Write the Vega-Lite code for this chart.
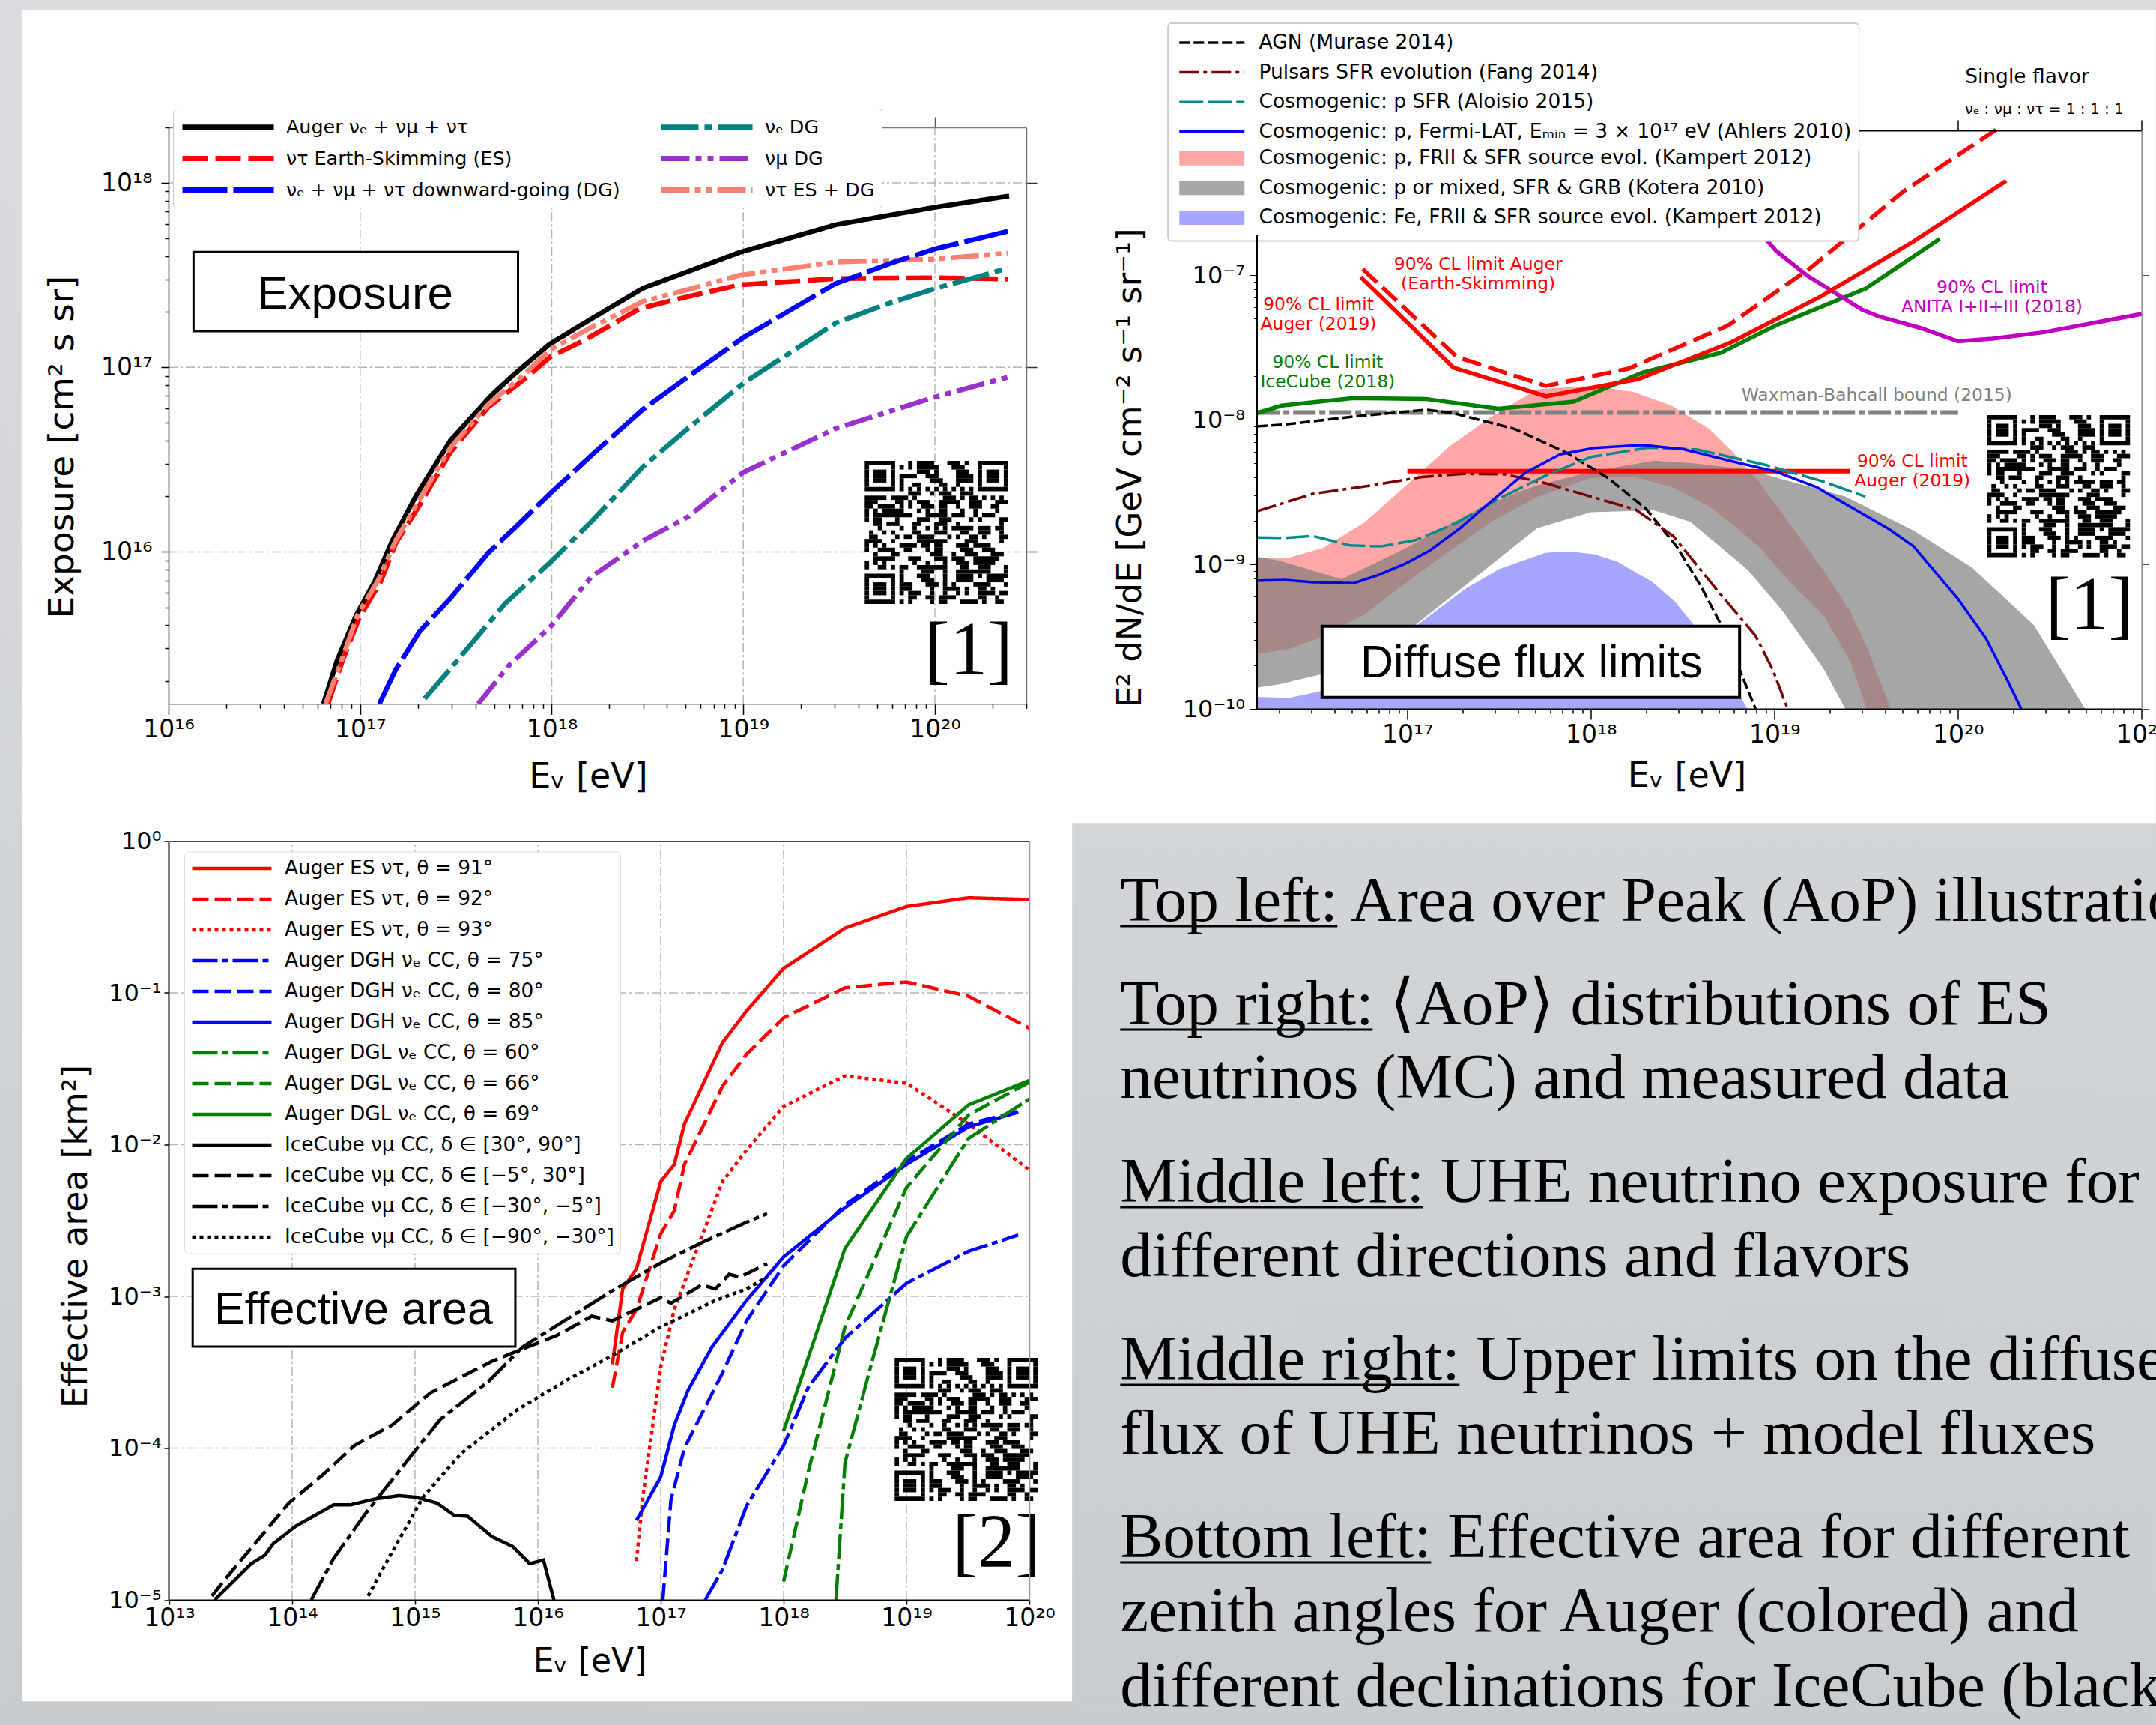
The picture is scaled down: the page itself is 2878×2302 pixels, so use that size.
{"$schema":"https://vega.github.io/schema/vega-lite/v6.json","autosize":"none","padding":{"left":225,"top":170,"right":2653,"bottom":2132},"background":"#d0d3d6","bounds":"flush","spacing":{"column":303.5,"row":176.5},"columns":2,
"resolve":{"scale":{"color":"independent","fill":"independent","strokeDash":"independent","strokeWidth":"independent"}},
"config":{"view":{"stroke":null},"axis":{"grid":false,"labelFont":"DejaVu Sans","labelFontSize":33,"labelColor":"#000000","titleFont":"DejaVu Sans","titleFontWeight":"normal","titleColor":"#000000","tickColor":"#000000","domainColor":"#000000","labelOverlap":false,"labelBound":false,"labelFlush":false,"titleBaseline":"alphabetic"},"text":{"font":"DejaVu Sans"}},
"datasets":{
"a":[
{"s":"Auger  νₑ + νμ + ντ","x":6.43e16,"y":1.5e15},{"s":"Auger  νₑ + νμ + ντ","x":7.58e16,"y":2.58e15},{"s":"Auger  νₑ + νμ + ντ","x":9.55e16,"y":4.55e15},{"s":"Auger  νₑ + νμ + ντ","x":1.19e17,"y":6.9e15},{"s":"Auger  νₑ + νμ + ντ","x":1.47e17,"y":1.15e16},{"s":"Auger  νₑ + νμ + ντ","x":1.96e17,"y":2.02e16},{"s":"Auger  νₑ + νμ + ντ","x":2.96e17,"y":4.02e16},{"s":"Auger  νₑ + νμ + ντ","x":4.87e17,"y":7.1e16},{"s":"Auger  νₑ + νμ + ντ","x":6.24e17,"y":9.0e16},{"s":"Auger  νₑ + νμ + ντ","x":9.68e17,"y":1.33e17},{"s":"Auger  νₑ + νμ + ντ","x":1.55e18,"y":1.79e17},{"s":"Auger  νₑ + νμ + ντ","x":3.0e18,"y":2.69e17},{"s":"Auger  νₑ + νμ + ντ","x":5.14e18,"y":3.31e17},{"s":"Auger  νₑ + νμ + ντ","x":9.55e18,"y":4.2e17},{"s":"Auger  νₑ + νμ + ντ","x":3.04e19,"y":5.94e17},{"s":"Auger  νₑ + νμ + ντ","x":1.0e20,"y":7.38e17},{"s":"Auger  νₑ + νμ + ντ","x":2.44e20,"y":8.5e17},
{"s":"ντ Earth-Skimming (ES)","x":6.8e16,"y":1.5e15},{"s":"ντ Earth-Skimming (ES)","x":8.1e16,"y":2.58e15},{"s":"ντ Earth-Skimming (ES)","x":9.9e16,"y":4.4e15},{"s":"ντ Earth-Skimming (ES)","x":1.28e17,"y":6.9e15},{"s":"ντ Earth-Skimming (ES)","x":1.53e17,"y":1.11e16},{"s":"ντ Earth-Skimming (ES)","x":2.04e17,"y":1.79e16},{"s":"ντ Earth-Skimming (ES)","x":2.96e17,"y":3.47e16},{"s":"ντ Earth-Skimming (ES)","x":4.67e17,"y":6.1e16},{"s":"ντ Earth-Skimming (ES)","x":7.06e17,"y":8.5e16},{"s":"ντ Earth-Skimming (ES)","x":9.84e17,"y":1.14e17},{"s":"ντ Earth-Skimming (ES)","x":1.49e18,"y":1.41e17},{"s":"ντ Earth-Skimming (ES)","x":2.88e18,"y":2.08e17},{"s":"ντ Earth-Skimming (ES)","x":5.14e18,"y":2.42e17},{"s":"ντ Earth-Skimming (ES)","x":9.55e18,"y":2.8e17},{"s":"ντ Earth-Skimming (ES)","x":3.04e19,"y":3.03e17},{"s":"ντ Earth-Skimming (ES)","x":1.0e20,"y":3.06e17},{"s":"ντ Earth-Skimming (ES)","x":2.4e20,"y":3.01e17},
{"s":"ντ ES + DG","x":6.6e16,"y":1.5e15},{"s":"ντ ES + DG","x":8.0e16,"y":2.58e15},{"s":"ντ ES + DG","x":9.7e16,"y":4.55e15},{"s":"ντ ES + DG","x":1.25e17,"y":7.1e15},{"s":"ντ ES + DG","x":1.53e17,"y":1.15e16},{"s":"ντ ES + DG","x":2.04e17,"y":1.92e16},{"s":"ντ ES + DG","x":2.96e17,"y":3.67e16},{"s":"ντ ES + DG","x":4.67e17,"y":6.3e16},{"s":"ντ ES + DG","x":7.06e17,"y":9.0e16},{"s":"ντ ES + DG","x":9.84e17,"y":1.25e17},{"s":"ντ ES + DG","x":1.6e18,"y":1.64e17},{"s":"ντ ES + DG","x":3.0e18,"y":2.28e17},{"s":"ντ ES + DG","x":5.14e18,"y":2.64e17},{"s":"ντ ES + DG","x":9.55e18,"y":3.16e17},{"s":"ντ ES + DG","x":3.04e19,"y":3.73e17},{"s":"ντ ES + DG","x":1.0e20,"y":3.87e17},{"s":"ντ ES + DG","x":2.4e20,"y":4.16e17},
{"s":"νₑ + νμ + ντ downward-going (DG)","x":1.26e17,"y":1.5e15},{"s":"νₑ + νμ + ντ downward-going (DG)","x":1.53e17,"y":2.29e15},{"s":"νₑ + νμ + ντ downward-going (DG)","x":2.04e17,"y":3.69e15},{"s":"νₑ + νμ + ντ downward-going (DG)","x":2.96e17,"y":5.6e15},{"s":"νₑ + νμ + ντ downward-going (DG)","x":4.67e17,"y":9.9e15},{"s":"νₑ + νμ + ντ downward-going (DG)","x":6.5e17,"y":1.37e16},{"s":"νₑ + νμ + ντ downward-going (DG)","x":9.84e17,"y":2.08e16},{"s":"νₑ + νμ + ντ downward-going (DG)","x":1.68e18,"y":3.47e16},{"s":"νₑ + νμ + ντ downward-going (DG)","x":3.0e18,"y":5.93e16},{"s":"νₑ + νμ + ντ downward-going (DG)","x":5.14e18,"y":8.9e16},{"s":"νₑ + νμ + ντ downward-going (DG)","x":1.0e19,"y":1.45e17},{"s":"νₑ + νμ + ντ downward-going (DG)","x":3.04e19,"y":2.85e17},{"s":"νₑ + νμ + ντ downward-going (DG)","x":6.14e19,"y":3.73e17},{"s":"νₑ + νμ + ντ downward-going (DG)","x":1.0e20,"y":4.39e17},{"s":"νₑ + νμ + ντ downward-going (DG)","x":2.4e20,"y":5.47e17},
{"s":"νₑ DG","x":2.17e17,"y":1.6e15},{"s":"νₑ DG","x":2.85e17,"y":2.22e15},{"s":"νₑ DG","x":4.3e17,"y":3.69e15},{"s":"νₑ DG","x":5.74e17,"y":5.27e15},{"s":"νₑ DG","x":9.84e17,"y":8.8e15},{"s":"νₑ DG","x":1.61e18,"y":1.46e16},{"s":"νₑ DG","x":3.0e18,"y":2.9e16},{"s":"νₑ DG","x":5.14e18,"y":4.67e16},{"s":"νₑ DG","x":1.0e19,"y":8.2e16},{"s":"νₑ DG","x":1.5e19,"y":1.08e17},{"s":"νₑ DG","x":3.04e19,"y":1.74e17},{"s":"νₑ DG","x":5.65e19,"y":2.21e17},{"s":"νₑ DG","x":1.0e20,"y":2.67e17},{"s":"νₑ DG","x":2.4e20,"y":3.45e17},
{"s":"νμ DG","x":4.13e17,"y":1.5e15},{"s":"νμ DG","x":6.0e17,"y":2.43e15},{"s":"νμ DG","x":9.84e17,"y":3.92e15},{"s":"νμ DG","x":1.61e18,"y":7.33e15},{"s":"νμ DG","x":3.0e18,"y":1.15e16},{"s":"νμ DG","x":5.14e18,"y":1.55e16},{"s":"νμ DG","x":1.0e19,"y":2.7e16},{"s":"νμ DG","x":3.04e19,"y":4.67e16},{"s":"νμ DG","x":1.0e20,"y":6.9e16},{"s":"νμ DG","x":2.4e20,"y":8.85e16}
],
"bLines":[
{"s":"AGN (Murase 2014)","x":1.52e16,"y":8.97e-9},{"s":"AGN (Murase 2014)","x":2.16e16,"y":9.27e-9},{"s":"AGN (Murase 2014)","x":5.1e16,"y":1.05e-8},{"s":"AGN (Murase 2014)","x":1.26e17,"y":1.17e-8},{"s":"AGN (Murase 2014)","x":1.78e17,"y":1.11e-8},{"s":"AGN (Murase 2014)","x":3.86e17,"y":8.6e-9},{"s":"AGN (Murase 2014)","x":7.38e17,"y":5.9e-9},{"s":"AGN (Murase 2014)","x":1.24e18,"y":3.95e-9},{"s":"AGN (Murase 2014)","x":1.99e18,"y":2.43e-9},{"s":"AGN (Murase 2014)","x":2.93e18,"y":1.33e-9},{"s":"AGN (Murase 2014)","x":3.96e18,"y":7.1e-10},{"s":"AGN (Murase 2014)","x":5.13e18,"y":3.79e-10},{"s":"AGN (Murase 2014)","x":6.64e18,"y":1.71e-10},{"s":"AGN (Murase 2014)","x":7.89e18,"y":1e-10},
{"s":"Pulsars SFR evolution (Fang 2014)","x":1.52e16,"y":2.33e-9},{"s":"Pulsars SFR evolution (Fang 2014)","x":3.05e16,"y":3.07e-9},{"s":"Pulsars SFR evolution (Fang 2014)","x":6.07e16,"y":3.48e-9},{"s":"Pulsars SFR evolution (Fang 2014)","x":1.21e17,"y":4.02e-9},{"s":"Pulsars SFR evolution (Fang 2014)","x":2.03e17,"y":4.22e-9},{"s":"Pulsars SFR evolution (Fang 2014)","x":3.4e17,"y":4.19e-9},{"s":"Pulsars SFR evolution (Fang 2014)","x":5.7e17,"y":3.63e-9},{"s":"Pulsars SFR evolution (Fang 2014)","x":1e18,"y":2.94e-9},{"s":"Pulsars SFR evolution (Fang 2014)","x":1.75e18,"y":2.39e-9},{"s":"Pulsars SFR evolution (Fang 2014)","x":2.81e18,"y":1.57e-9},{"s":"Pulsars SFR evolution (Fang 2014)","x":4.91e18,"y":6.53e-10},{"s":"Pulsars SFR evolution (Fang 2014)","x":7.89e18,"y":3.2e-10},{"s":"Pulsars SFR evolution (Fang 2014)","x":9.8e18,"y":1.86e-10},{"s":"Pulsars SFR evolution (Fang 2014)","x":1.18e19,"y":1e-10},
{"s":"Cosmogenic: p SFR (Aloisio 2015)","x":1.52e16,"y":1.53e-9},{"s":"Cosmogenic: p SFR (Aloisio 2015)","x":2.16e16,"y":1.52e-9},{"s":"Cosmogenic: p SFR (Aloisio 2015)","x":3.05e16,"y":1.57e-9},{"s":"Cosmogenic: p SFR (Aloisio 2015)","x":4.9e16,"y":1.35e-9},{"s":"Cosmogenic: p SFR (Aloisio 2015)","x":7.2e16,"y":1.33e-9},{"s":"Cosmogenic: p SFR (Aloisio 2015)","x":1.11e17,"y":1.47e-9},{"s":"Cosmogenic: p SFR (Aloisio 2015)","x":1.86e17,"y":1.94e-9},{"s":"Cosmogenic: p SFR (Aloisio 2015)","x":3.12e17,"y":2.82e-9},{"s":"Cosmogenic: p SFR (Aloisio 2015)","x":5.7e17,"y":4.12e-9},{"s":"Cosmogenic: p SFR (Aloisio 2015)","x":1e18,"y":5.52e-9},{"s":"Cosmogenic: p SFR (Aloisio 2015)","x":2.07e18,"y":6.41e-9},{"s":"Cosmogenic: p SFR (Aloisio 2015)","x":3.8e18,"y":6.21e-9},{"s":"Cosmogenic: p SFR (Aloisio 2015)","x":8.97e18,"y":4.86e-9},{"s":"Cosmogenic: p SFR (Aloisio 2015)","x":1.79e19,"y":3.78e-9},{"s":"Cosmogenic: p SFR (Aloisio 2015)","x":3.13e19,"y":2.94e-9},
{"s":"Cosmogenic: p, Fermi-LAT, Eₘᵢₙ = 3 × 10¹⁷ eV (Ahlers 2010)","x":1.52e16,"y":7.71e-10},{"s":"Cosmogenic: p, Fermi-LAT, Eₘᵢₙ = 3 × 10¹⁷ eV (Ahlers 2010)","x":2.16e16,"y":7.78e-10},{"s":"Cosmogenic: p, Fermi-LAT, Eₘᵢₙ = 3 × 10¹⁷ eV (Ahlers 2010)","x":3.05e16,"y":7.52e-10},{"s":"Cosmogenic: p, Fermi-LAT, Eₘᵢₙ = 3 × 10¹⁷ eV (Ahlers 2010)","x":5.1e16,"y":7.4e-10},{"s":"Cosmogenic: p, Fermi-LAT, Eₘᵢₙ = 3 × 10¹⁷ eV (Ahlers 2010)","x":6.9e16,"y":8.4e-10},{"s":"Cosmogenic: p, Fermi-LAT, Eₘᵢₙ = 3 × 10¹⁷ eV (Ahlers 2010)","x":9.75e16,"y":1.01e-9},{"s":"Cosmogenic: p, Fermi-LAT, Eₘᵢₙ = 3 × 10¹⁷ eV (Ahlers 2010)","x":1.32e17,"y":1.24e-9},{"s":"Cosmogenic: p, Fermi-LAT, Eₘᵢₙ = 3 × 10¹⁷ eV (Ahlers 2010)","x":1.94e17,"y":1.78e-9},{"s":"Cosmogenic: p, Fermi-LAT, Eₘᵢₙ = 3 × 10¹⁷ eV (Ahlers 2010)","x":2.74e17,"y":2.6e-9},{"s":"Cosmogenic: p, Fermi-LAT, Eₘᵢₙ = 3 × 10¹⁷ eV (Ahlers 2010)","x":4.4e17,"y":4.3e-9},{"s":"Cosmogenic: p, Fermi-LAT, Eₘᵢₙ = 3 × 10¹⁷ eV (Ahlers 2010)","x":6.78e17,"y":5.75e-9},{"s":"Cosmogenic: p, Fermi-LAT, Eₘᵢₙ = 3 × 10¹⁷ eV (Ahlers 2010)","x":1.04e18,"y":6.37e-9},{"s":"Cosmogenic: p, Fermi-LAT, Eₘᵢₙ = 3 × 10¹⁷ eV (Ahlers 2010)","x":1.9e18,"y":6.68e-9},{"s":"Cosmogenic: p, Fermi-LAT, Eₘᵢₙ = 3 × 10¹⁷ eV (Ahlers 2010)","x":3.19e18,"y":6.25e-9},{"s":"Cosmogenic: p, Fermi-LAT, Eₘᵢₙ = 3 × 10¹⁷ eV (Ahlers 2010)","x":5.83e18,"y":5.16e-9},{"s":"Cosmogenic: p, Fermi-LAT, Eₘᵢₙ = 3 × 10¹⁷ eV (Ahlers 2010)","x":1.02e19,"y":4.37e-9},{"s":"Cosmogenic: p, Fermi-LAT, Eₘᵢₙ = 3 × 10¹⁷ eV (Ahlers 2010)","x":1.71e19,"y":3.4e-9},{"s":"Cosmogenic: p, Fermi-LAT, Eₘᵢₙ = 3 × 10¹⁷ eV (Ahlers 2010)","x":2.75e19,"y":2.39e-9},{"s":"Cosmogenic: p, Fermi-LAT, Eₘᵢₙ = 3 × 10¹⁷ eV (Ahlers 2010)","x":4.24e19,"y":1.74e-9},{"s":"Cosmogenic: p, Fermi-LAT, Eₘᵢₙ = 3 × 10¹⁷ eV (Ahlers 2010)","x":5.73e19,"y":1.33e-9},{"s":"Cosmogenic: p, Fermi-LAT, Eₘᵢₙ = 3 × 10¹⁷ eV (Ahlers 2010)","x":1e20,"y":5.75e-10},{"s":"Cosmogenic: p, Fermi-LAT, Eₘᵢₙ = 3 × 10¹⁷ eV (Ahlers 2010)","x":1.42e20,"y":3.07e-10},{"s":"Cosmogenic: p, Fermi-LAT, Eₘᵢₙ = 3 × 10¹⁷ eV (Ahlers 2010)","x":1.83e20,"y":1.64e-10},{"s":"Cosmogenic: p, Fermi-LAT, Eₘᵢₙ = 3 × 10¹⁷ eV (Ahlers 2010)","x":2.21e20,"y":1e-10}
],
"bWB":[{"x":1.52e16,"y":1.12e-8},{"x":1e20,"y":1.12e-8}],
"bRedH":[{"x":1e17,"y":4.4e-9},{"x":2.57e19,"y":4.4e-9}],
"bRedDash":[{"x":5.71e16,"y":1.1e-7},{"x":1.86e17,"y":2.71e-8},{"x":5.7e17,"y":1.71e-8},{"x":1.6e18,"y":2.25e-8},{"x":5.6e18,"y":4.48e-8},{"x":1.57e19,"y":1.12e-7},{"x":5.03e19,"y":3.78e-7},{"x":1.61e20,"y":1.01e-6}],
"bRed":[{"x":5.57e16,"y":9.67e-8},{"x":1.78e17,"y":2.29e-8},{"x":5.7e17,"y":1.45e-8},{"x":1.82e18,"y":1.91e-8},{"x":5.83e18,"y":3.43e-8},{"x":1.79e19,"y":7.1e-8},{"x":5.73e19,"y":1.71e-7},{"x":1.83e20,"y":4.48e-7}],
"bGreen":[{"x":1.52e16,"y":1.11e-8},{"x":2.07e16,"y":1.25e-8},{"x":5.1e16,"y":1.41e-8},{"x":1.26e17,"y":1.39e-8},{"x":3.12e17,"y":1.19e-8},{"x":8.05e17,"y":1.33e-8},{"x":1.9e18,"y":2.11e-8},{"x":5.13e18,"y":2.9e-8},{"x":1.02e19,"y":4.48e-8},{"x":3.13e19,"y":8.04e-8},{"x":7.94e19,"y":1.78e-7}],
"bMag":[{"x":8.97e18,"y":1.78e-7},{"x":1.02e19,"y":1.47e-7},{"x":1.51e19,"y":9.9e-8},{"x":3e19,"y":5.75e-8},{"x":3.72e19,"y":5.16e-8},{"x":6.24e19,"y":4.3e-8},{"x":1e20,"y":3.48e-8},{"x":1.54e20,"y":3.63e-8},{"x":2.94e20,"y":4.02e-8},{"x":1e21,"y":5.38e-8}],
"bPink":[{"x":1.51e16,"y":1.11e-9,"y2":2.39e-10},{"x":2.26e16,"y":1.11e-9,"y2":2.59e-10},{"x":3.48e16,"y":1.3e-9,"y2":3.16e-10},{"x":5.9e16,"y":1.97e-9,"y2":4.52e-10},{"x":1e17,"y":3.57e-9,"y2":7.57e-10},{"x":1.69e17,"y":6.5e-9,"y2":1.23e-9},{"x":2.87e17,"y":1.05e-8,"y2":1.97e-9},{"x":5.11e17,"y":1.62e-8,"y2":2.93e-9},{"x":1e18,"y":1.71e-8,"y2":3.95e-9},{"x":1.69e18,"y":1.56e-8,"y2":4.03e-9},{"x":2.74e18,"y":1.25e-8,"y2":3.44e-9},{"x":4.43e18,"y":8.6e-9,"y2":2.5e-9},{"x":5.9e18,"y":6e-9,"y2":1.89e-9},{"x":8.26e18,"y":3.72e-9,"y2":1.32e-9},{"x":1.16e19,"y":2.05e-9,"y2":8.04e-10},{"x":1.87e19,"y":8.89e-10,"y2":4.35e-10},{"x":2.59e19,"y":4.7e-10,"y2":2.12e-10},{"x":3.18e19,"y":2.7e-10,"y2":1e-10},{"x":4.31e19,"y":1e-10,"y2":1e-10}],
"bGrey":[{"x":1.51e16,"y":1.13e-9,"y2":1.4e-10},{"x":2e16,"y":1.06e-9,"y2":1.48e-10},{"x":4.38e16,"y":7.88e-10,"y2":1.87e-10},{"x":9.53e16,"y":1.27e-9,"y2":3.29e-10},{"x":2.15e17,"y":2.22e-9,"y2":7.43e-10},{"x":4.02e17,"y":3.17e-9,"y2":1.4e-9},{"x":5.11e17,"y":3.51e-9,"y2":1.78e-9},{"x":1e18,"y":4.36e-9,"y2":2.29e-9},{"x":2.21e18,"y":5.21e-9,"y2":2.36e-9},{"x":3.48e18,"y":5.01e-9,"y2":1.97e-9},{"x":7.14e18,"y":4.54e-9,"y2":9.16e-10},{"x":1.1e19,"y":3.87e-9,"y2":4.8e-10},{"x":1.86e19,"y":3.24e-9,"y2":1.88e-10},{"x":2.43e19,"y":2.94e-9,"y2":1e-10},{"x":5.73e19,"y":1.71e-9,"y2":1e-10},{"x":1.19e20,"y":9.5e-10,"y2":1e-10},{"x":2.59e20,"y":3.79e-10,"y2":1e-10},{"x":4.93e20,"y":1e-10,"y2":1e-10}],
"bFe":[{"x":1.51e16,"y":1.21e-10,"y2":1e-10},{"x":2.26e16,"y":1.19e-10,"y2":1e-10},{"x":3.32e16,"y":1.32e-10,"y2":1e-10},{"x":5.9e16,"y":2.04e-10,"y2":1e-10},{"x":1.15e17,"y":3.85e-10,"y2":1e-10},{"x":2.05e17,"y":6.71e-10,"y2":1e-10},{"x":3.16e17,"y":9.25e-10,"y2":1e-10},{"x":5.62e17,"y":1.2e-9,"y2":1e-10},{"x":7.5e17,"y":1.23e-9,"y2":1e-10},{"x":1.05e18,"y":1.17e-9,"y2":1e-10},{"x":1.4e18,"y":1.04e-9,"y2":1e-10},{"x":2.15e18,"y":7.57e-10,"y2":1e-10},{"x":2.87e18,"y":5.51e-10,"y2":1e-10},{"x":3.65e18,"y":3.78e-10,"y2":1e-10},{"x":5.1e18,"y":2.04e-10,"y2":1e-10},{"x":7.14e18,"y":1e-10,"y2":1e-10}],
"bText":[
{"x":2.43e17,"y":1.18e-7,"t":"90% CL limit Auger","c":"#ff0000"},{"x":2.43e17,"y":8.67e-8,"t":"(Earth-Skimming)","c":"#ff0000"},
{"x":3.28e16,"y":6.2e-8,"t":"90% CL limit","c":"#ff0000"},{"x":3.28e16,"y":4.55e-8,"t":"Auger (2019)","c":"#ff0000"},
{"x":3.68e16,"y":2.47e-8,"t":"90% CL limit","c":"#008000"},{"x":3.68e16,"y":1.81e-8,"t":"IceCube (2018)","c":"#008000"},
{"x":1.53e20,"y":8.18e-8,"t":"90% CL limit","c":"#bf00bf"},{"x":1.53e20,"y":6e-8,"t":"ANITA I+II+III (2018)","c":"#bf00bf"},
{"x":3.61e19,"y":1.46e-8,"t":"Waxman-Bahcall bound (2015)","c":"#808080"},
{"x":5.64e19,"y":5.15e-9,"t":"90% CL limit","c":"#ff0000"},{"x":5.64e19,"y":3.78e-9,"t":"Auger (2019)","c":"#ff0000"}
],
"c":[
{"s":"Auger ES ντ, θ = 91°","x":4.04e16,"y":3.57e-4},{"s":"Auger ES ντ, θ = 91°","x":4.9e16,"y":1.12e-3},{"s":"Auger ES ντ, θ = 91°","x":6.34e16,"y":1.52e-3},{"s":"Auger ES ντ, θ = 91°","x":1e17,"y":5.7e-3},{"s":"Auger ES ντ, θ = 91°","x":1.29e17,"y":7.4e-3},{"s":"Auger ES ντ, θ = 91°","x":1.56e17,"y":1.37e-2},{"s":"Auger ES ντ, θ = 91°","x":3.18e17,"y":4.7e-2},{"s":"Auger ES ντ, θ = 91°","x":4.99e17,"y":7.6e-2},{"s":"Auger ES ντ, θ = 91°","x":1e18,"y":0.145},{"s":"Auger ES ντ, θ = 91°","x":3.16e18,"y":0.267},{"s":"Auger ES ντ, θ = 91°","x":1e19,"y":0.37},{"s":"Auger ES ντ, θ = 91°","x":3.2e19,"y":0.423},{"s":"Auger ES ντ, θ = 91°","x":1e20,"y":0.412},
{"s":"Auger ES ντ, θ = 92°","x":4.04e16,"y":2.5e-4},{"s":"Auger ES ντ, θ = 92°","x":4.9e16,"y":5.8e-4},{"s":"Auger ES ντ, θ = 92°","x":6.34e16,"y":8.2e-4},{"s":"Auger ES ντ, θ = 92°","x":1e17,"y":2.58e-3},{"s":"Auger ES ντ, θ = 92°","x":1.29e17,"y":3.67e-3},{"s":"Auger ES ντ, θ = 92°","x":1.56e17,"y":7.4e-3},{"s":"Auger ES ντ, θ = 92°","x":3.18e17,"y":2.43e-2},{"s":"Auger ES ντ, θ = 92°","x":4.99e17,"y":3.94e-2},{"s":"Auger ES ντ, θ = 92°","x":1e18,"y":6.85e-2},{"s":"Auger ES ντ, θ = 92°","x":3.16e18,"y":0.108},{"s":"Auger ES ντ, θ = 92°","x":1e19,"y":0.118},{"s":"Auger ES ντ, θ = 92°","x":3.2e19,"y":9.5e-2},{"s":"Auger ES ντ, θ = 92°","x":1e20,"y":5.85e-2},
{"s":"Auger ES ντ, θ = 93°","x":6.34e16,"y":1.8e-5},{"s":"Auger ES ντ, θ = 93°","x":7.2e16,"y":4.95e-5},{"s":"Auger ES ντ, θ = 93°","x":1e17,"y":3.42e-4},{"s":"Auger ES ντ, θ = 93°","x":1.29e17,"y":8.2e-4},{"s":"Auger ES ντ, θ = 93°","x":3.18e17,"y":5.7e-3},{"s":"Auger ES ντ, θ = 93°","x":4.99e17,"y":9.2e-3},{"s":"Auger ES ντ, θ = 93°","x":1e18,"y":1.79e-2},{"s":"Auger ES ντ, θ = 93°","x":3.16e18,"y":2.84e-2},{"s":"Auger ES ντ, θ = 93°","x":1e19,"y":2.54e-2},{"s":"Auger ES ντ, θ = 93°","x":3.2e19,"y":1.37e-2},{"s":"Auger ES ντ, θ = 93°","x":1e20,"y":6.8e-3},
{"s":"Auger DGH νₑ CC, θ = 75°","x":2.3e17,"y":1e-5},{"s":"Auger DGH νₑ CC, θ = 75°","x":3.18e17,"y":1.58e-5},{"s":"Auger DGH νₑ CC, θ = 75°","x":4.99e17,"y":4.15e-5},{"s":"Auger DGH νₑ CC, θ = 75°","x":1e18,"y":1.04e-4},{"s":"Auger DGH νₑ CC, θ = 75°","x":1.59e18,"y":2.52e-4},{"s":"Auger DGH νₑ CC, θ = 75°","x":3.16e18,"y":5.3e-4},{"s":"Auger DGH νₑ CC, θ = 75°","x":1e19,"y":1.22e-3},{"s":"Auger DGH νₑ CC, θ = 75°","x":3.2e19,"y":1.98e-3},{"s":"Auger DGH νₑ CC, θ = 75°","x":8.13e19,"y":2.54e-3},
{"s":"Auger DGH νₑ CC, θ = 80°","x":1.04e17,"y":1e-5},{"s":"Auger DGH νₑ CC, θ = 80°","x":1.21e17,"y":4.53e-5},{"s":"Auger DGH νₑ CC, θ = 80°","x":1.56e17,"y":1e-4},{"s":"Auger DGH νₑ CC, θ = 80°","x":3.18e17,"y":3.13e-4},{"s":"Auger DGH νₑ CC, θ = 80°","x":4.99e17,"y":6.9e-4},{"s":"Auger DGH νₑ CC, θ = 80°","x":1e18,"y":1.59e-3},{"s":"Auger DGH νₑ CC, θ = 80°","x":3.16e18,"y":4.0e-3},{"s":"Auger DGH νₑ CC, θ = 80°","x":1e19,"y":7.75e-3},{"s":"Auger DGH νₑ CC, θ = 80°","x":3.2e19,"y":1.37e-2},{"s":"Auger DGH νₑ CC, θ = 80°","x":8.13e19,"y":1.66e-2},
{"s":"Auger DGH νₑ CC, θ = 85°","x":6.34e16,"y":3.33e-5},{"s":"Auger DGH νₑ CC, θ = 85°","x":1e17,"y":6.44e-5},{"s":"Auger DGH νₑ CC, θ = 85°","x":1.29e17,"y":1.42e-4},{"s":"Auger DGH νₑ CC, θ = 85°","x":1.67e17,"y":2.41e-4},{"s":"Auger DGH νₑ CC, θ = 85°","x":2.62e17,"y":4.66e-4},{"s":"Auger DGH νₑ CC, θ = 85°","x":4.99e17,"y":9.4e-4},{"s":"Auger DGH νₑ CC, θ = 85°","x":1e18,"y":1.82e-3},{"s":"Auger DGH νₑ CC, θ = 85°","x":3.16e18,"y":3.84e-3},{"s":"Auger DGH νₑ CC, θ = 85°","x":1e19,"y":7.4e-3},{"s":"Auger DGH νₑ CC, θ = 85°","x":3.2e19,"y":1.31e-2},{"s":"Auger DGH νₑ CC, θ = 85°","x":8.13e19,"y":1.64e-2},
{"s":"Auger DGL νₑ CC, θ = 60°","x":2.67e18,"y":1e-5},{"s":"Auger DGL νₑ CC, θ = 60°","x":3.16e18,"y":8e-5},{"s":"Auger DGL νₑ CC, θ = 60°","x":5.1e18,"y":3.42e-4},{"s":"Auger DGL νₑ CC, θ = 60°","x":1e19,"y":2.47e-3},{"s":"Auger DGL νₑ CC, θ = 60°","x":3.2e19,"y":1.1e-2},{"s":"Auger DGL νₑ CC, θ = 60°","x":1e20,"y":2e-2},
{"s":"Auger DGL νₑ CC, θ = 66°","x":1e18,"y":1.32e-5},{"s":"Auger DGL νₑ CC, θ = 66°","x":1.59e18,"y":7e-5},{"s":"Auger DGL νₑ CC, θ = 66°","x":3.16e18,"y":6.3e-4},{"s":"Auger DGL νₑ CC, θ = 66°","x":1e19,"y":5.2e-3},{"s":"Auger DGL νₑ CC, θ = 66°","x":3.2e19,"y":1.57e-2},{"s":"Auger DGL νₑ CC, θ = 66°","x":1e20,"y":2.58e-2},
{"s":"Auger DGL νₑ CC, θ = 69°","x":1e18,"y":1.3e-4},{"s":"Auger DGL νₑ CC, θ = 69°","x":3.16e18,"y":2.07e-3},{"s":"Auger DGL νₑ CC, θ = 69°","x":1e19,"y":8.1e-3},{"s":"Auger DGL νₑ CC, θ = 69°","x":3.2e19,"y":1.83e-2},{"s":"Auger DGL νₑ CC, θ = 69°","x":1e20,"y":2.65e-2},
{"s":"IceCube νμ CC, δ ∈ [30°, 90°]","x":2.34e13,"y":1e-5},{"s":"IceCube νμ CC, δ ∈ [30°, 90°]","x":4.64e13,"y":1.73e-5},{"s":"IceCube νμ CC, δ ∈ [30°, 90°]","x":6e13,"y":1.97e-5},{"s":"IceCube νμ CC, δ ∈ [30°, 90°]","x":7e13,"y":2.34e-5},{"s":"IceCube νμ CC, δ ∈ [30°, 90°]","x":1.07e14,"y":3.06e-5},{"s":"IceCube νμ CC, δ ∈ [30°, 90°]","x":2.18e14,"y":4.23e-5},{"s":"IceCube νμ CC, δ ∈ [30°, 90°]","x":3e14,"y":4.23e-5},{"s":"IceCube νμ CC, δ ∈ [30°, 90°]","x":4.72e14,"y":4.62e-5},{"s":"IceCube νμ CC, δ ∈ [30°, 90°]","x":7.4e14,"y":4.86e-5},{"s":"IceCube νμ CC, δ ∈ [30°, 90°]","x":1.02e15,"y":4.74e-5},{"s":"IceCube νμ CC, δ ∈ [30°, 90°]","x":1.51e15,"y":4.34e-5},{"s":"IceCube νμ CC, δ ∈ [30°, 90°]","x":2.08e15,"y":3.61e-5},{"s":"IceCube νμ CC, δ ∈ [30°, 90°]","x":2.69e15,"y":3.55e-5},{"s":"IceCube νμ CC, δ ∈ [30°, 90°]","x":4.23e15,"y":2.61e-5},{"s":"IceCube νμ CC, δ ∈ [30°, 90°]","x":6.22e15,"y":2.25e-5},{"s":"IceCube νμ CC, δ ∈ [30°, 90°]","x":8.6e15,"y":1.73e-5},{"s":"IceCube νμ CC, δ ∈ [30°, 90°]","x":1.11e16,"y":1.83e-5},{"s":"IceCube νμ CC, δ ∈ [30°, 90°]","x":1.35e16,"y":1e-5},
{"s":"IceCube νμ CC, δ ∈ [−5°, 30°]","x":2.22e13,"y":1.06e-5},{"s":"IceCube νμ CC, δ ∈ [−5°, 30°]","x":3.15e13,"y":1.51e-5},{"s":"IceCube νμ CC, δ ∈ [−5°, 30°]","x":9.4e13,"y":4.34e-5},{"s":"IceCube νμ CC, δ ∈ [−5°, 30°]","x":1.8e14,"y":6.73e-5},{"s":"IceCube νμ CC, δ ∈ [−5°, 30°]","x":3.21e14,"y":1.04e-4},{"s":"IceCube νμ CC, δ ∈ [−5°, 30°]","x":6.5e14,"y":1.42e-4},{"s":"IceCube νμ CC, δ ∈ [−5°, 30°]","x":1.33e15,"y":2.31e-4},{"s":"IceCube νμ CC, δ ∈ [−5°, 30°]","x":4.23e15,"y":3.74e-4},{"s":"IceCube νμ CC, δ ∈ [−5°, 30°]","x":1.44e16,"y":5.55e-4},{"s":"IceCube νμ CC, δ ∈ [−5°, 30°]","x":2.74e16,"y":7.4e-4},{"s":"IceCube νμ CC, δ ∈ [−5°, 30°]","x":4.04e16,"y":6.9e-4},{"s":"IceCube νμ CC, δ ∈ [−5°, 30°]","x":1e17,"y":9.8e-4},{"s":"IceCube νμ CC, δ ∈ [−5°, 30°]","x":1.21e17,"y":9e-4},{"s":"IceCube νμ CC, δ ∈ [−5°, 30°]","x":2.16e17,"y":1.19e-3},{"s":"IceCube νμ CC, δ ∈ [−5°, 30°]","x":2.79e17,"y":1.12e-3},{"s":"IceCube νμ CC, δ ∈ [−5°, 30°]","x":3.61e17,"y":1.4e-3},{"s":"IceCube νμ CC, δ ∈ [−5°, 30°]","x":4.39e17,"y":1.34e-3},{"s":"IceCube νμ CC, δ ∈ [−5°, 30°]","x":7.35e17,"y":1.64e-3},
{"s":"IceCube νμ CC, δ ∈ [−30°, −5°]","x":1.43e14,"y":1e-5},{"s":"IceCube νμ CC, δ ∈ [−30°, −5°]","x":2.18e14,"y":1.88e-5},{"s":"IceCube νμ CC, δ ∈ [−30°, −5°]","x":3.89e14,"y":3.64e-5},{"s":"IceCube νμ CC, δ ∈ [−30°, −5°]","x":9.6e14,"y":9.2e-5},{"s":"IceCube νμ CC, δ ∈ [−30°, −5°]","x":1.61e15,"y":1.55e-4},{"s":"IceCube νμ CC, δ ∈ [−30°, −5°]","x":3.96e15,"y":2.75e-4},{"s":"IceCube νμ CC, δ ∈ [−30°, −5°]","x":7.55e15,"y":4.66e-4},{"s":"IceCube νμ CC, δ ∈ [−30°, −5°]","x":1.64e16,"y":6.9e-4},{"s":"IceCube νμ CC, δ ∈ [−30°, −5°]","x":4.04e16,"y":1.09e-3},{"s":"IceCube νμ CC, δ ∈ [−30°, −5°]","x":1e17,"y":1.66e-3},{"s":"IceCube νμ CC, δ ∈ [−30°, −5°]","x":2.16e17,"y":2.26e-3},{"s":"IceCube νμ CC, δ ∈ [−30°, −5°]","x":4.99e17,"y":3.08e-3},{"s":"IceCube νμ CC, δ ∈ [−30°, −5°]","x":7.35e17,"y":3.51e-3},
{"s":"IceCube νμ CC, δ ∈ [−90°, −30°]","x":4.15e14,"y":1.06e-5},{"s":"IceCube νμ CC, δ ∈ [−90°, −30°]","x":6.1e14,"y":1.88e-5},{"s":"IceCube νμ CC, δ ∈ [−90°, −30°]","x":1.16e15,"y":4.74e-5},{"s":"IceCube νμ CC, δ ∈ [−90°, −30°]","x":2.37e15,"y":9.2e-5},{"s":"IceCube νμ CC, δ ∈ [−90°, −30°]","x":6.64e15,"y":1.77e-4},{"s":"IceCube νμ CC, δ ∈ [−90°, −30°]","x":1.64e16,"y":2.75e-4},{"s":"IceCube νμ CC, δ ∈ [−90°, −30°]","x":4.04e16,"y":4.08e-4},{"s":"IceCube νμ CC, δ ∈ [−90°, −30°]","x":1e17,"y":6.3e-4},{"s":"IceCube νμ CC, δ ∈ [−90°, −30°]","x":2.79e17,"y":9.4e-4},{"s":"IceCube νμ CC, δ ∈ [−90°, −30°]","x":4.99e17,"y":1.12e-3},{"s":"IceCube νμ CC, δ ∈ [−90°, −30°]","x":7.35e17,"y":1.34e-3}
],
"qr":[
{"r":0,"a":0,"b":7},{"r":0,"a":10,"b":11},{"r":0,"a":12,"b":16},{"r":0,"a":19,"b":22},{"r":0,"a":23,"b":24},{"r":0,"a":26,"b":33},
{"r":1,"a":0,"b":1},{"r":1,"a":6,"b":7},{"r":1,"a":8,"b":9},{"r":1,"a":10,"b":11},{"r":1,"a":12,"b":17},{"r":1,"a":20,"b":23},{"r":1,"a":26,"b":27},{"r":1,"a":32,"b":33},
{"r":2,"a":0,"b":1},{"r":2,"a":2,"b":5},{"r":2,"a":6,"b":7},{"r":2,"a":12,"b":15},{"r":2,"a":16,"b":17},{"r":2,"a":21,"b":24},{"r":2,"a":26,"b":27},{"r":2,"a":28,"b":31},{"r":2,"a":32,"b":33},
{"r":3,"a":0,"b":1},{"r":3,"a":2,"b":5},{"r":3,"a":6,"b":7},{"r":3,"a":8,"b":12},{"r":3,"a":14,"b":17},{"r":3,"a":21,"b":25},{"r":3,"a":26,"b":27},{"r":3,"a":28,"b":31},{"r":3,"a":32,"b":33},
{"r":4,"a":0,"b":1},{"r":4,"a":2,"b":5},{"r":4,"a":6,"b":7},{"r":4,"a":8,"b":9},{"r":4,"a":15,"b":18},{"r":4,"a":21,"b":25},{"r":4,"a":26,"b":27},{"r":4,"a":28,"b":31},{"r":4,"a":32,"b":33},
{"r":5,"a":0,"b":1},{"r":5,"a":6,"b":7},{"r":5,"a":8,"b":9},{"r":5,"a":11,"b":13},{"r":5,"a":17,"b":19},{"r":5,"a":21,"b":22},{"r":5,"a":26,"b":27},{"r":5,"a":32,"b":33},
{"r":6,"a":0,"b":7},{"r":6,"a":8,"b":9},{"r":6,"a":10,"b":11},{"r":6,"a":12,"b":13},{"r":6,"a":14,"b":15},{"r":6,"a":16,"b":17},{"r":6,"a":18,"b":19},{"r":6,"a":20,"b":21},{"r":6,"a":22,"b":23},{"r":6,"a":24,"b":25},{"r":6,"a":26,"b":33},
{"r":7,"a":10,"b":13},{"r":7,"a":15,"b":16},{"r":7,"a":17,"b":20},{"r":7,"a":22,"b":25},
{"r":8,"a":0,"b":5},{"r":8,"a":6,"b":10},{"r":8,"a":11,"b":12},{"r":8,"a":18,"b":21},{"r":8,"a":22,"b":23},{"r":8,"a":24,"b":26},{"r":8,"a":27,"b":28},{"r":8,"a":29,"b":30},{"r":8,"a":31,"b":32},
{"r":9,"a":0,"b":3},{"r":9,"a":7,"b":9},{"r":9,"a":10,"b":11},{"r":9,"a":12,"b":15},{"r":9,"a":17,"b":22},{"r":9,"a":24,"b":27},{"r":9,"a":30,"b":33},
{"r":10,"a":0,"b":2},{"r":10,"a":3,"b":7},{"r":10,"a":8,"b":9},{"r":10,"a":10,"b":11},{"r":10,"a":13,"b":16},{"r":10,"a":17,"b":19},{"r":10,"a":21,"b":22},{"r":10,"a":24,"b":27},{"r":10,"a":29,"b":31},
{"r":11,"a":0,"b":1},{"r":11,"a":2,"b":3},{"r":11,"a":4,"b":9},{"r":11,"a":12,"b":13},{"r":11,"a":14,"b":15},{"r":11,"a":17,"b":19},{"r":11,"a":22,"b":23},{"r":11,"a":25,"b":26},{"r":11,"a":30,"b":31},
{"r":12,"a":0,"b":1},{"r":12,"a":2,"b":11},{"r":12,"a":14,"b":19},{"r":12,"a":20,"b":23},{"r":12,"a":25,"b":26},{"r":12,"a":27,"b":30},
{"r":13,"a":0,"b":1},{"r":13,"a":2,"b":4},{"r":13,"a":7,"b":8},{"r":13,"a":12,"b":15},{"r":13,"a":17,"b":20},{"r":13,"a":24,"b":25},{"r":13,"a":26,"b":27},{"r":13,"a":31,"b":33},
{"r":14,"a":2,"b":4},{"r":14,"a":5,"b":8},{"r":14,"a":11,"b":13},{"r":14,"a":16,"b":19},{"r":14,"a":21,"b":22},{"r":14,"a":31,"b":32},
{"r":15,"a":3,"b":4},{"r":15,"a":8,"b":9},{"r":15,"a":11,"b":12},{"r":15,"a":14,"b":15},{"r":15,"a":16,"b":17},{"r":15,"a":18,"b":19},{"r":15,"a":20,"b":25},{"r":15,"a":26,"b":29},{"r":15,"a":30,"b":32},
{"r":16,"a":1,"b":2},{"r":16,"a":4,"b":5},{"r":16,"a":6,"b":7},{"r":16,"a":11,"b":13},{"r":16,"a":16,"b":19},{"r":16,"a":22,"b":24},{"r":16,"a":26,"b":29},{"r":16,"a":31,"b":32},
{"r":17,"a":1,"b":3},{"r":17,"a":7,"b":8},{"r":17,"a":9,"b":11},{"r":17,"a":12,"b":16},{"r":17,"a":19,"b":20},{"r":17,"a":21,"b":22},{"r":17,"a":24,"b":26},{"r":17,"a":27,"b":28},{"r":17,"a":31,"b":33},
{"r":18,"a":0,"b":4},{"r":18,"a":6,"b":7},{"r":18,"a":12,"b":19},{"r":18,"a":23,"b":26},{"r":18,"a":31,"b":32},
{"r":19,"a":0,"b":1},{"r":19,"a":2,"b":3},{"r":19,"a":4,"b":5},{"r":19,"a":8,"b":12},{"r":19,"a":13,"b":15},{"r":19,"a":16,"b":18},{"r":19,"a":21,"b":24},{"r":19,"a":25,"b":29},
{"r":20,"a":0,"b":1},{"r":20,"a":3,"b":7},{"r":20,"a":9,"b":11},{"r":20,"a":14,"b":15},{"r":20,"a":16,"b":18},{"r":20,"a":22,"b":25},{"r":20,"a":27,"b":30},
{"r":21,"a":2,"b":3},{"r":21,"a":6,"b":8},{"r":21,"a":15,"b":18},{"r":21,"a":20,"b":21},{"r":21,"a":23,"b":26},{"r":21,"a":29,"b":32},
{"r":22,"a":2,"b":7},{"r":22,"a":10,"b":13},{"r":22,"a":16,"b":19},{"r":22,"a":20,"b":23},{"r":22,"a":25,"b":31},
{"r":23,"a":0,"b":1},{"r":23,"a":2,"b":3},{"r":23,"a":4,"b":5},{"r":23,"a":11,"b":12},{"r":23,"a":14,"b":15},{"r":23,"a":18,"b":19},{"r":23,"a":21,"b":24},{"r":23,"a":25,"b":30},
{"r":24,"a":0,"b":1},{"r":24,"a":3,"b":5},{"r":24,"a":6,"b":7},{"r":24,"a":8,"b":10},{"r":24,"a":12,"b":19},{"r":24,"a":22,"b":24},{"r":24,"a":26,"b":29},{"r":24,"a":32,"b":33},
{"r":25,"a":8,"b":9},{"r":25,"a":13,"b":16},{"r":25,"a":18,"b":19},{"r":25,"a":21,"b":29},{"r":25,"a":32,"b":33},
{"r":26,"a":0,"b":7},{"r":26,"a":8,"b":9},{"r":26,"a":12,"b":15},{"r":26,"a":18,"b":19},{"r":26,"a":21,"b":25},{"r":26,"a":26,"b":27},{"r":26,"a":28,"b":33},
{"r":27,"a":0,"b":1},{"r":27,"a":6,"b":7},{"r":27,"a":8,"b":9},{"r":27,"a":13,"b":16},{"r":27,"a":18,"b":19},{"r":27,"a":21,"b":25},{"r":27,"a":28,"b":32},
{"r":28,"a":0,"b":1},{"r":28,"a":2,"b":5},{"r":28,"a":6,"b":7},{"r":28,"a":8,"b":11},{"r":28,"a":14,"b":17},{"r":28,"a":18,"b":19},{"r":28,"a":20,"b":21},{"r":28,"a":25,"b":29},{"r":28,"a":32,"b":33},
{"r":29,"a":0,"b":1},{"r":29,"a":2,"b":5},{"r":29,"a":6,"b":7},{"r":29,"a":8,"b":11},{"r":29,"a":15,"b":16},{"r":29,"a":18,"b":22},{"r":29,"a":23,"b":24},{"r":29,"a":26,"b":28},{"r":29,"a":29,"b":30},
{"r":30,"a":0,"b":1},{"r":30,"a":2,"b":5},{"r":30,"a":6,"b":7},{"r":30,"a":8,"b":9},{"r":30,"a":10,"b":13},{"r":30,"a":15,"b":16},{"r":30,"a":18,"b":19},{"r":30,"a":21,"b":22},{"r":30,"a":23,"b":24},{"r":30,"a":26,"b":30},{"r":30,"a":31,"b":33},
{"r":31,"a":0,"b":1},{"r":31,"a":6,"b":7},{"r":31,"a":10,"b":12},{"r":31,"a":14,"b":16},{"r":31,"a":17,"b":21},{"r":31,"a":26,"b":28},{"r":31,"a":30,"b":31},
{"r":32,"a":0,"b":7},{"r":32,"a":8,"b":9},{"r":32,"a":10,"b":11},{"r":32,"a":15,"b":16},{"r":32,"a":17,"b":19},{"r":32,"a":22,"b":26},{"r":32,"a":27,"b":28},{"r":32,"a":30,"b":32}
]
},
"concat":[
{"width":1145,"height":769.3,
"resolve":{"scale":{"x":"independent","y":"independent"}},
"layer":[
{"encoding":{"x":{"field":"x","type":"quantitative","axis":null,"scale":{"type":"log","domain":[1e16,3e20],"nice":false}},"y":{"field":"y","type":"quantitative","axis":null,"scale":{"type":"log","domain":[1.5e15,2e18],"nice":false}}},
"resolve":{"axis":{"x":"independent","y":"independent"}},
"layer":[
{"data":{"values":[{"x":1.32e15,"x2":2.36e26,"y":9.9e18,"y2":4.3e9}]},"mark":{"type":"rect","color":{"gradient":"linear","x1":0,"y1":0,"x2":0,"y2":1,"stops":[{"offset":0,"color":"#dcdde0"},{"offset":1,"color":"#c8ccd0"}]}},
"encoding":{"x":{"field":"x","type":"quantitative","scale":{"type":"log","domain":[1e16,3e20],"nice":false},"axis":{"zindex":1,"orient":"bottom","values":[1e16,2e16,3e16,4e16,5e16,6e16,7e16,8e16,9e16,1e17,2e17,3e17,4e17,5e17,6e17,7e17,8e17,9e17,1e18,2e18,3e18,4e18,5e18,6e18,7e18,8e18,9e18,1e19,2e19,3e19,4e19,5e19,6e19,7e19,8e19,9e19,1e20,2e20,3e20],"labelExpr":"abs(log(datum.value)/LN10-round(log(datum.value)/LN10))<0.001?'10'+{'16':'¹⁶','17':'¹⁷','18':'¹⁸','19':'¹⁹','20':'²⁰'}[''+round(log(datum.value)/LN10)]:''","tickSize":{"condition":{"test":"abs(log(datum.value)/LN10-round(log(datum.value)/LN10))<0.001","value":14},"value":6},"tickWidth":1.5,"domainWidth":1.5,"domainColor":"#666666","labelPadding":4,"title":"Eᵥ [eV]","titleFontSize":46,"titleX":560,"titleY":111}},
"x2":{"field":"x2"},
"y":{"field":"y","type":"quantitative","scale":{"type":"log","domain":[1.5e15,2e18],"nice":false},"axis":{"zindex":1,"orient":"left","values":[2e15,3e15,4e15,5e15,6e15,7e15,8e15,9e15,1e16,2e16,3e16,4e16,5e16,6e16,7e16,8e16,9e16,1e17,2e17,3e17,4e17,5e17,6e17,7e17,8e17,9e17,1e18,2e18],"labelExpr":"abs(log(datum.value)/LN10-round(log(datum.value)/LN10))<0.001?'10'+{'16':'¹⁶','17':'¹⁷','18':'¹⁸'}[''+round(log(datum.value)/LN10)]:''","tickSize":{"condition":{"test":"abs(log(datum.value)/LN10-round(log(datum.value)/LN10))<0.001","value":10},"value":5},"tickWidth":1.5,"domainWidth":1.5,"labelPadding":12,"title":"Exposure [cm² s sr]","titleFontSize":47,"titleX":-128,"titleY":426}},
"y2":{"field":"y2"}}},
{"data":{"values":[{"x":1.71e15,"x2":2.36e26,"y":8.68e18,"y2":3.39e14}]},"mark":{"type":"rect","color":"#ffffff"},
"encoding":{"x":{"field":"x","type":"quantitative","scale":{"type":"log","domain":[1e16,3e20],"nice":false},"axis":{"zindex":1,"orient":"top","values":[1e17,1e18,1e19,1e20],"labels":false,"title":null,"tickSize":14,"tickColor":"#555555","domainColor":"#777777","domainWidth":1.5,"tickWidth":1.5}},
"x2":{"field":"x2"},
"y":{"field":"y","type":"quantitative","scale":{"type":"log","domain":[1.5e15,2e18],"nice":false},"axis":{"zindex":1,"orient":"right","values":[1e16,1e17,1e18],"labels":false,"title":null,"tickSize":14,"tickColor":"#333333","domainColor":"#777777","domainWidth":1.5,"tickWidth":1.5}},
"y2":{"field":"y2"}}},
{"data":{"values":[{"x":1e17,"y":1.5e15,"y2":2e18},{"x":1e18,"y":1.5e15,"y2":2e18},{"x":1e19,"y":1.5e15,"y2":2e18},{"x":1e20,"y":1.5e15,"y2":2e18}]},"mark":{"type":"rule","color":"#b5b5b5","strokeWidth":1.5,"strokeDash":[12,4,3,4]},"encoding":{"y2":{"field":"y2"}}},
{"data":{"values":[{"x":1e16,"x2":3e20,"y":1e16},{"x":1e16,"x2":3e20,"y":1e17},{"x":1e16,"x2":3e20,"y":1e18}]},"mark":{"type":"rule","color":"#b5b5b5","strokeWidth":1.5,"strokeDash":[12,4,3,4]},"encoding":{"x2":{"field":"x2"}}},
{"data":{"name":"a"},"mark":{"type":"line","strokeWidth":6.5,"clip":true},
"encoding":{"color":{"field":"s","type":"nominal","scale":{"domain":["Auger  νₑ + νμ + ντ","ντ Earth-Skimming (ES)","νₑ + νμ + ντ downward-going (DG)","νₑ DG","νμ DG","ντ ES + DG"],"range":["#000000","#ff0000","#0000ff","#008080","#9932cc","#fa8072"]},"legend":{"title":null,"orient":"none","legendX":6,"legendY":-25,"zindex":1,"columns":2,"columnPadding":40,"fillColor":"#ffffff","strokeColor":"#cccccc","cornerRadius":5,"padding":9,"labelFont":"DejaVu Sans","labelFontSize":25.4,"labelColor":"#000000","labelLimit":800,"labelOffset":111,"symbolType":"M-1,0H9.17","symbolSize":576,"symbolStrokeWidth":7,"rowPadding":12}},
"strokeDash":{"field":"s","type":"nominal","scale":{"domain":["Auger  νₑ + νμ + ντ","ντ Earth-Skimming (ES)","νₑ + νμ + ντ downward-going (DG)","νₑ DG","νμ DG","ντ ES + DG"],"range":[[1,0],[34,10],[60,8],[50,8,10,8],[38,8,8,8,8,8],[38,7,8,7,8,7]]},"legend":{"title":null}}}},
{"data":{"values":[{"x":1.35e16,"x2":6.67e17,"y":4.22e17,"y2":1.57e17}]},"mark":{"type":"rect","fill":"#ffffff","stroke":"#000000","strokeWidth":3},"encoding":{"x2":{"field":"x2"},"y2":{"field":"y2"}}},
{"data":{"values":[{"x":9.42e16,"y":2.49e17,"t":"Exposure"}]},"mark":{"type":"text","font":"Liberation Sans","fontSize":62,"color":"#000000","align":"center","baseline":"middle"},"encoding":{"text":{"field":"t"}}},
{"data":{"values":[{"x":1.5e20,"y":2.17e15,"t":"[1]"}]},"mark":{"type":"text","font":"Liberation Serif","fontSize":101,"color":"#000000","align":"center","baseline":"alphabetic"},"encoding":{"text":{"field":"t"}}}
]},
{"data":{"name":"qr"},"transform":[{"calculate":"datum.r+1","as":"r2"}],"mark":{"type":"rect","color":"#000000"},"encoding":{"x":{"field":"a","type":"quantitative","axis":null,"scale":{"domain":[0,33],"range":[929.3,1120.7],"nice":false,"zero":false}},"x2":{"field":"b"},"y":{"field":"r","type":"quantitative","axis":null,"scale":{"domain":[0,33],"range":[445,636],"nice":false,"zero":false}},"y2":{"field":"r2"}}}
]},
{"width":1181.2,"height":776,
"resolve":{"scale":{"x":"independent","y":"independent"}},
"layer":[
{"encoding":{"x":{"field":"x","type":"quantitative","axis":null,"scale":{"type":"log","domain":[1.51e16,1e21],"nice":false}},"y":{"field":"y","type":"quantitative","axis":null,"scale":{"type":"log","domain":[1e-10,1e-6],"range":[776,4],"nice":false}}},
"resolve":{"axis":{"x":"independent","y":"independent"}},
"layer":[
{"data":{"name":"bPink"},"mark":{"type":"area","color":"#ffa6a6","opacity":1,"clip":true},
"encoding":{"x":{"field":"x","type":"quantitative","scale":{"type":"log","domain":[1.51e16,1e21],"nice":false},"axis":{"zindex":1,"orient":"bottom","values":[2e16,3e16,4e16,5e16,6e16,7e16,8e16,9e16,1e17,2e17,3e17,4e17,5e17,6e17,7e17,8e17,9e17,1e18,2e18,3e18,4e18,5e18,6e18,7e18,8e18,9e18,1e19,2e19,3e19,4e19,5e19,6e19,7e19,8e19,9e19,1e20,2e20,3e20,4e20,5e20,6e20,7e20,8e20,9e20,1e21],"labelExpr":"abs(log(datum.value)/LN10-round(log(datum.value)/LN10))<0.001?'10'+{'17':'¹⁷','18':'¹⁸','19':'¹⁹','20':'²⁰','21':'²¹'}[''+round(log(datum.value)/LN10)]:''","tickSize":{"condition":{"test":"abs(log(datum.value)/LN10-round(log(datum.value)/LN10))<0.001","value":14},"value":6},"tickWidth":1.5,"domainWidth":2,"labelPadding":4,"title":"Eᵥ [eV]","titleFontSize":46,"titleX":574,"titleY":103}},
"y":{"field":"y","type":"quantitative","scale":{"type":"log","domain":[1e-10,1e-6],"range":[776,4],"nice":false},"axis":{"zindex":1,"orient":"left","values":[1e-10,2e-10,3e-10,4e-10,5e-10,6e-10,7e-10,8e-10,9e-10,1e-9,2e-9,3e-9,4e-9,5e-9,6e-9,7e-9,8e-9,9e-9,1e-8,2e-8,3e-8,4e-8,5e-8,6e-8,7e-8,8e-8,9e-8,1e-7],"labelExpr":"abs(log(datum.value)/LN10-round(log(datum.value)/LN10))<0.001?'10'+{'-10':'⁻¹⁰','-9':'⁻⁹','-8':'⁻⁸','-7':'⁻⁷'}[''+round(log(datum.value)/LN10)]:''","tickSize":{"condition":{"test":"abs(log(datum.value)/LN10-round(log(datum.value)/LN10))<0.001","value":10},"value":4},"tickWidth":1,"domainWidth":2,"labelPadding":6,"labelFontSize":32,"title":"E² dN/dE [GeV cm⁻² s⁻¹ sr⁻¹]","titleFontSize":45,"titleX":-155,"titleY":454}},
"y2":{"field":"y2"}}},
{"data":{"name":"bFe"},"mark":{"type":"area","color":"#a6a6ff","clip":true},"encoding":{"y2":{"field":"y2"}}},
{"data":{"name":"bGrey"},"mark":{"type":"area","color":"#787878","opacity":0.66,"clip":true},
"encoding":{"x":{"field":"x","type":"quantitative","scale":{"type":"log","domain":[1.51e16,1e21],"nice":false},"axis":{"zindex":1,"orient":"top","offset":-4,"values":[1e20,1e21],"labels":false,"title":null,"tickSize":14,"domainWidth":2,"tickWidth":1.5}},
"y":{"field":"y","type":"quantitative","scale":{"type":"log","domain":[1e-10,1e-6],"range":[776,4],"nice":false},"axis":{"zindex":1,"orient":"right","values":[1e-10,1e-9,1e-8,1e-7],"labels":false,"title":null,"tickSize":10,"domainColor":"#888888","tickColor":"#555555","domainWidth":1.5}},
"y2":{"field":"y2"}}},
{"data":{"name":"bWB"},"mark":{"type":"line","color":"#808080","strokeWidth":6,"strokeDash":[30,5,8,5]}},
{"data":{"name":"bRedH"},"mark":{"type":"line","color":"#ff0000","strokeWidth":6}},
{"data":{"name":"bGreen"},"mark":{"type":"line","color":"#008000","strokeWidth":5.5}},
{"data":{"name":"bMag"},"mark":{"type":"line","color":"#bf00bf","strokeWidth":5.5}},
{"data":{"name":"bRed"},"mark":{"type":"line","color":"#ff0000","strokeWidth":5.5}},
{"data":{"name":"bRedDash"},"mark":{"type":"line","color":"#ff0000","strokeWidth":5.5,"strokeDash":[26,10]}},
{"data":{"name":"bLines"},"mark":{"type":"line","clip":true},
"encoding":{"color":{"field":"s","type":"nominal","scale":{"domain":["AGN (Murase 2014)","Pulsars SFR evolution (Fang 2014)","Cosmogenic: p SFR (Aloisio 2015)","Cosmogenic: p, Fermi-LAT, Eₘᵢₙ = 3 × 10¹⁷ eV (Ahlers 2010)"],"range":["#000000","#7a0000","#008b8b","#0000ff"]},"legend":{"title":null,"orient":"none","legendX":-116.5,"legendY":-136.3,"zindex":1,"fillColor":"#ffffff","strokeColor":null,"padding":10,"labelFont":"DejaVu Sans","labelFontSize":26.5,"labelColor":"#000000","labelLimit":900,"labelOffset":83,"symbolType":"M-1,0H7.7","symbolSize":400,"symbolStrokeWidth":3.5,"rowPadding":12.6}},
"strokeDash":{"field":"s","type":"nominal","scale":{"domain":["AGN (Murase 2014)","Pulsars SFR evolution (Fang 2014)","Cosmogenic: p SFR (Aloisio 2015)","Cosmogenic: p, Fermi-LAT, Eₘᵢₙ = 3 × 10¹⁷ eV (Ahlers 2010)"],"range":[[14,5],[26,6,5,6],[32,6],[1,0]]},"legend":{"title":null}},
"strokeWidth":{"field":"s","type":"nominal","scale":{"domain":["AGN (Murase 2014)","Pulsars SFR evolution (Fang 2014)","Cosmogenic: p SFR (Aloisio 2015)","Cosmogenic: p, Fermi-LAT, Eₘᵢₙ = 3 × 10¹⁷ eV (Ahlers 2010)"],"range":[3.5,3.5,4.5,4]},"legend":null}}},
{"data":{"values":[{"x":4.97e15,"x2":2.88e19,"y":5.5e-6,"y2":1.72e-7}]},"mark":{"type":"rect","fill":"#ffffff","stroke":"#cccccc","strokeWidth":2,"cornerRadius":5},"encoding":{"x2":{"field":"x2"},"y2":{"field":"y2"}}},
{"data":{"name":"bFe"},"mark":{"type":"area","opacity":0},"encoding":{"y2":{"field":"y2"},"fill":{"datum":"Cosmogenic: p, FRII & SFR source evol. (Kampert 2012)","type":"nominal","scale":{"domain":["Cosmogenic: p, FRII & SFR source evol. (Kampert 2012)","Cosmogenic: p or mixed, SFR & GRB (Kotera 2010)","Cosmogenic: Fe, FRII & SFR source evol. (Kampert 2012)"],"range":["#ffa6a6","#a6a6a6","#a6a6ff"]},"legend":{"title":null,"orient":"none","legendX":-116.5,"legendY":18,"zindex":1,"fillColor":"#ffffff","strokeColor":null,"padding":10,"labelFont":"DejaVu Sans","labelFontSize":26.5,"labelColor":"#000000","labelLimit":900,"labelOffset":83,"symbolType":"M-1,-0.95H7.7V0.95H-1Z","symbolSize":400,"symbolStrokeWidth":0,"symbolOpacity":1,"rowPadding":12.6}}}},
{"data":{"values":[{"x":3.43e16,"x2":6.46e18,"y":3.73e-10,"y2":1.2e-10}]},"mark":{"type":"rect","fill":"#ffffff","stroke":"#000000","strokeWidth":4},"encoding":{"x2":{"field":"x2"},"y2":{"field":"y2"}}},
{"data":{"values":[{"x":4.74e17,"y":2.05e-10,"t":"Diffuse flux limits"}]},"mark":{"type":"text","font":"Liberation Sans","fontSize":61,"color":"#000000","align":"center","baseline":"middle"},"encoding":{"text":{"field":"t"}}},
{"data":{"values":[{"x":5.21e20,"y":3.56e-10,"t":"[1]"}]},"mark":{"type":"text","font":"Liberation Serif","fontSize":101,"color":"#000000","align":"center","baseline":"alphabetic"},"encoding":{"text":{"field":"t"}}},
{"data":{"name":"bText"},"mark":{"type":"text","fontSize":23.4,"align":"center","baseline":"middle"},"encoding":{"text":{"field":"t"},"color":{"field":"c","type":"nominal","scale":null,"legend":null}}},
{"data":{"values":[{"x":2.38e20,"y":2.33e-6,"t":"Single flavor"}]},"mark":{"type":"text","fontSize":26.5,"color":"#000000","align":"center","baseline":"middle"},"encoding":{"text":{"field":"t"}}},
{"data":{"values":[{"x":2.95e20,"y":1.39e-6,"t":"νₑ : νμ : ντ = 1 : 1 : 1"}]},"mark":{"type":"text","fontSize":20,"color":"#000000","align":"center","baseline":"middle"},"encoding":{"text":{"field":"t"}}}
]},
{"data":{"name":"qr"},"transform":[{"calculate":"datum.r+1","as":"r2"}],"mark":{"type":"rect","color":"#000000"},"encoding":{"x":{"field":"a","type":"quantitative","axis":null,"scale":{"domain":[0,33],"range":[975,1165.7],"nice":false,"zero":false}},"x2":{"field":"b"},"y":{"field":"r","type":"quantitative","axis":null,"scale":{"domain":[0,33],"range":[384,573.6],"nice":false,"zero":false}},"y2":{"field":"r2"}}}
]},
{"width":1149,"height":1012.5,
"resolve":{"scale":{"x":"independent","y":"independent"}},
"layer":[
{"encoding":{"x":{"field":"x","type":"quantitative","axis":null,"scale":{"type":"log","domain":[1e13,1e20],"range":[1,1149],"nice":false}},"y":{"field":"y","type":"quantitative","axis":null,"scale":{"type":"log","domain":[1e-5,1],"nice":false}}},
"resolve":{"axis":{"x":"independent","y":"independent"}},
"layer":[
{"data":{"values":[{"x":6.3e11,"x2":2.23e20,"y":1.32,"y2":2.15e-6}]},"mark":{"type":"rect","color":"#ffffff"},
"encoding":{"x":{"field":"x","type":"quantitative","scale":{"type":"log","domain":[1e13,1e20],"range":[1,1149],"nice":false},"axis":{"zindex":1,"orient":"bottom","values":[1e13,1e14,1e15,1e16,1e17,1e18,1e19,1e20],"labelExpr":"'10'+{'13':'¹³','14':'¹⁴','15':'¹⁵','16':'¹⁶','17':'¹⁷','18':'¹⁸','19':'¹⁹','20':'²⁰'}[''+round(log(datum.value)/LN10)]","tickSize":6,"tickWidth":1.5,"domainWidth":2,"labelPadding":2,"title":"Eᵥ [eV]","titleFontSize":44,"titleX":562,"titleY":95}},
"x2":{"field":"x2"},
"y":{"field":"y","type":"quantitative","scale":{"type":"log","domain":[1e-5,1],"nice":false},"axis":{"zindex":1,"orient":"left","values":[1e-5,1e-4,1e-3,1e-2,1e-1,1],"labelExpr":"'10'+{'-5':'⁻⁵','-4':'⁻⁴','-3':'⁻³','-2':'⁻²','-1':'⁻¹','0':'⁰'}[''+round(log(datum.value)/LN10)]","tickSize":6,"tickWidth":1.5,"domainWidth":2,"labelPadding":4,"labelFontSize":32,"title":"Effective area [km²]","titleFontSize":46,"titleX":-110,"titleY":527}},
"y2":{"field":"y2"}}},
{"data":{"values":[{"x":1e14,"y":1e-5,"y2":1},{"x":1e15,"y":1e-5,"y2":1},{"x":1e16,"y":1e-5,"y2":1},{"x":1e17,"y":1e-5,"y2":1},{"x":1e18,"y":1e-5,"y2":1},{"x":1e19,"y":1e-5,"y2":1}]},"mark":{"type":"rule","color":"#b5b5b5","strokeWidth":1.5,"strokeDash":[12,4,3,4]},"encoding":{"y2":{"field":"y2"},
"x":{"field":"x","type":"quantitative","scale":{"type":"log","domain":[1e13,1e20],"range":[1,1149],"nice":false},"axis":{"zindex":1,"orient":"top","ticks":false,"labels":false,"title":null,"domainWidth":2,"domainColor":"#444444"}},
"y":{"field":"y","type":"quantitative","scale":{"type":"log","domain":[1e-5,1],"nice":false},"axis":{"zindex":1,"orient":"right","ticks":false,"labels":false,"title":null,"domainWidth":1.5,"domainColor":"#999999"}}}},
{"data":{"values":[{"x":1e13,"x2":1e20,"y":1e-4},{"x":1e13,"x2":1e20,"y":1e-3},{"x":1e13,"x2":1e20,"y":1e-2},{"x":1e13,"x2":1e20,"y":1e-1}]},"mark":{"type":"rule","color":"#b5b5b5","strokeWidth":1.5,"strokeDash":[12,4,3,4]},"encoding":{"x2":{"field":"x2"}}},
{"data":{"name":"c"},"mark":{"type":"line","strokeWidth":4.5,"clip":true},
"encoding":{"color":{"field":"s","type":"nominal","scale":{"domain":["Auger ES ντ, θ = 91°","Auger ES ντ, θ = 92°","Auger ES ντ, θ = 93°","Auger DGH νₑ CC, θ = 75°","Auger DGH νₑ CC, θ = 80°","Auger DGH νₑ CC, θ = 85°","Auger DGL νₑ CC, θ = 60°","Auger DGL νₑ CC, θ = 66°","Auger DGL νₑ CC, θ = 69°","IceCube νμ CC, δ ∈ [30°, 90°]","IceCube νμ CC, δ ∈ [−5°, 30°]","IceCube νμ CC, δ ∈ [−30°, −5°]","IceCube νμ CC, δ ∈ [−90°, −30°]"],"range":["#ff0000","#ff0000","#ff0000","#0000ff","#0000ff","#0000ff","#008000","#008000","#008000","#000000","#000000","#000000","#000000"]},"legend":{"title":null,"orient":"none","legendX":21,"legendY":14,"zindex":1,"fillColor":"#ffffff","strokeColor":"#dddddd","cornerRadius":5,"padding":8,"labelFont":"DejaVu Sans","labelFontSize":26.4,"labelColor":"#000000","labelLimit":800,"labelOffset":97,"symbolType":"M-1,0H7.83","symbolSize":576,"symbolStrokeWidth":4.5,"rowPadding":13}},
"strokeDash":{"field":"s","type":"nominal","scale":{"domain":["Auger ES ντ, θ = 91°","Auger ES ντ, θ = 92°","Auger ES ντ, θ = 93°","Auger DGH νₑ CC, θ = 75°","Auger DGH νₑ CC, θ = 80°","Auger DGH νₑ CC, θ = 85°","Auger DGL νₑ CC, θ = 60°","Auger DGL νₑ CC, θ = 66°","Auger DGL νₑ CC, θ = 69°","IceCube νμ CC, δ ∈ [30°, 90°]","IceCube νμ CC, δ ∈ [−5°, 30°]","IceCube νμ CC, δ ∈ [−30°, −5°]","IceCube νμ CC, δ ∈ [−90°, −30°]"],"range":[[1,0],[22,8],[5,5],[34,6,8,6],[22,8],[1,0],[34,6,8,6],[22,8],[1,0],[1,0],[22,8],[34,6,8,6],[5,5]]},"legend":{"title":null}}}},
{"data":{"values":[{"x":1.55e13,"x2":6.56e15,"y":1.52e-3,"y2":4.67e-4}]},"mark":{"type":"rect","fill":"#ffffff","stroke":"#000000","strokeWidth":3},"encoding":{"x2":{"field":"x2"},"y2":{"field":"y2"}}},
{"data":{"values":[{"x":3.16e14,"y":8.1e-4,"t":"Effective area"}]},"mark":{"type":"text","font":"Liberation Sans","fontSize":61,"color":"#000000","align":"center","baseline":"middle"},"encoding":{"text":{"field":"t"}}},
{"data":{"values":[{"x":5.4e19,"y":1.65e-5,"t":"[2]"}]},"mark":{"type":"text","font":"Liberation Serif","fontSize":101,"color":"#000000","align":"center","baseline":"alphabetic"},"encoding":{"text":{"field":"t"}}}
]},
{"data":{"name":"qr"},"transform":[{"calculate":"datum.r+1","as":"r2"}],"mark":{"type":"rect","color":"#000000"},"encoding":{"x":{"field":"a","type":"quantitative","axis":null,"scale":{"domain":[0,33],"range":[969.3,1160],"nice":false,"zero":false}},"x2":{"field":"b"},"y":{"field":"r","type":"quantitative","axis":null,"scale":{"domain":[0,33],"range":[689.5,880.5],"nice":false,"zero":false}},"y2":{"field":"r2"}}}
]},
{"width":1200.5,"height":1012.5,
"encoding":{"x":{"field":"x","type":"quantitative","axis":null,"scale":{"domain":[1677.5,2878],"nice":false,"zero":false}},"y":{"field":"y","type":"quantitative","axis":null,"scale":{"domain":[2135,1122.5],"nice":false,"zero":false}}},
"layer":[
{"data":{"values":[
{"x":1495.3,"y":1228.5,"t":"Top left: Area over Peak (AoP) illustration"},
{"x":1495.3,"y":1366.5,"t":"Top right: ⟨AoP⟩ distributions of ES"},
{"x":1495.3,"y":1464.5,"t":"neutrinos (MC) and measured data"},
{"x":1495.3,"y":1603.5,"t":"Middle left: UHE neutrino exposure for"},
{"x":1495.3,"y":1702.5,"t":"different directions and flavors"},
{"x":1495.3,"y":1840.5,"t":"Middle right: Upper limits on the diffuse"},
{"x":1495.3,"y":1939.5,"t":"flux of UHE neutrinos + model fluxes"},
{"x":1495.3,"y":2078,"t":"Bottom left: Effective area for different"},
{"x":1495.3,"y":2177,"t":"zenith angles for Auger (colored) and"},
{"x":1495.3,"y":2276.5,"t":"different declinations for IceCube (black)"}
]},"mark":{"type":"text","font":"Liberation Serif","fontSize":85.5,"color":"#000000","align":"left","baseline":"alphabetic"},"encoding":{"text":{"field":"t"}}},
{"data":{"values":[
{"x":1495.3,"x2":1785.3,"y":1236},{"x":1495.3,"x2":1832.3,"y":1374},{"x":1495.3,"x2":1899.8,"y":1611},{"x":1495.3,"x2":1948.3,"y":1848},{"x":1495.3,"x2":1910.3,"y":2085}
]},"mark":{"type":"rule","color":"#000000","strokeWidth":3},"encoding":{"x2":{"field":"x2"}}}
]}
]}
